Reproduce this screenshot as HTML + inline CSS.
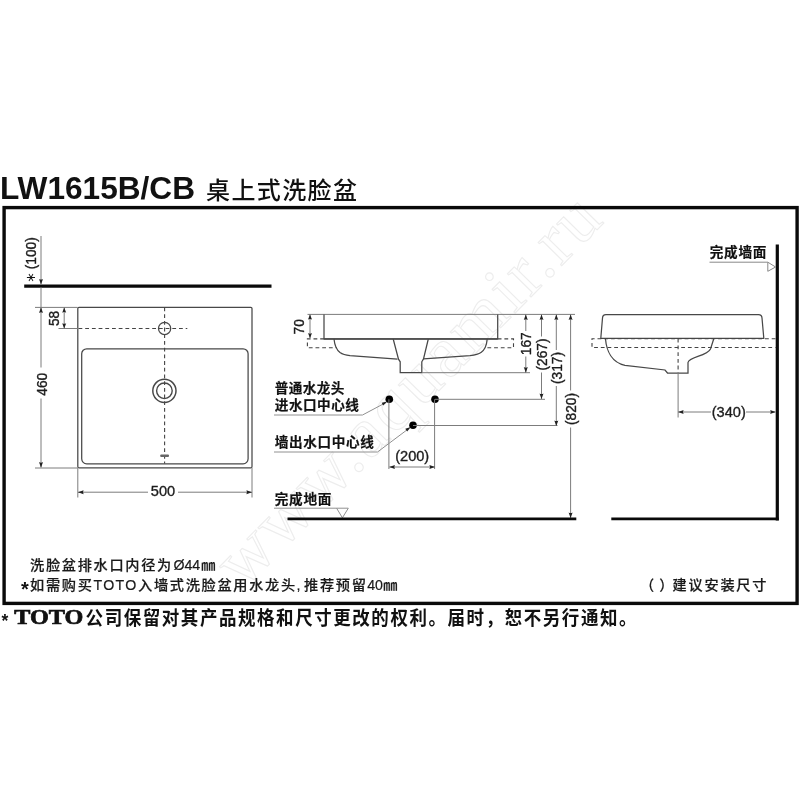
<!DOCTYPE html>
<html lang="zh-CN">
<head>
<meta charset="utf-8">
<title>LW1615B/CB 桌上式洗脸盆</title>
<style>
html,body{margin:0;padding:0;background:#fff;}
body{width:800px;height:800px;overflow:hidden;position:relative;}
svg{position:absolute;left:0;top:0;display:block;will-change:transform;}
text{font-family:"Liberation Sans","Noto Sans CJK SC",sans-serif;fill:#111;}
.dim{font-size:14.6px;fill:#1c1c1c;stroke:#1c1c1c;stroke-width:0.35;}
.lbl{font-size:13.6px;font-weight:700;fill:#111;stroke:#111;stroke-width:0.2;}
.note{font-size:14.2px;font-weight:500;fill:#1a1a1a;stroke:#1a1a1a;stroke-width:0.2;}
.thin{stroke:#484848;stroke-width:1.25;fill:none;}
.hair{stroke:#7c7c7c;stroke-width:1;fill:none;}
.dash{stroke:#444;stroke-width:1.1;fill:none;stroke-dasharray:3.8 2.9;}
.thick{stroke:#0a0a0a;stroke-width:3.2;fill:none;}
.arr{fill:#222;stroke:none;}
.wm{font-family:"Liberation Serif",serif;font-size:72px;fill:none;stroke:#ededed;stroke-width:1.1;}
</style>
</head>
<body>
<svg width="800" height="800" viewBox="0 0 800 800">
<rect x="0" y="0" width="800" height="800" fill="#fff"/>

<g style="filter:blur(0.35px)">
<!-- watermark -->
<g transform="translate(243,590) rotate(-45.5)">
<text class="wm" x="0" y="0" textLength="516" lengthAdjust="spacing">www.aquamir.ru</text>
</g>

<!-- title -->
<text x="0" y="199.2" font-size="31.6" font-weight="700" textLength="195" lengthAdjust="spacingAndGlyphs">LW1615B/CB</text>
<text x="206" y="199" font-size="24" font-weight="500" textLength="151" lengthAdjust="spacing">桌上式洗脸盆</text>

<!-- frame -->
<rect x="4.1" y="207.6" width="793" height="395.8" class="thick" style="stroke-width:3.4"/>

<!-- ===== top view ===== -->
<g id="topview">
<line x1="24.2" y1="286.1" x2="271.5" y2="286.1" class="thick"/>
<path class="hair" d="M41,236V284.5 M41,287.5V367.5 M41,398.5V467.5"/>
<path class="arr" d="M41,284.5l-2.0,-5.6q2.0,1.3 4.0,0z M41,307.3l-2.0,5.6q2.0,-1.3 4.0,0z M41,467.7l-2.0,-5.6q2.0,1.3 4.0,0z"/>
<text class="dim" transform="translate(35.9,253.3) rotate(-90) scale(0.94,1.06)" text-anchor="middle">(100)</text>
<text transform="translate(35.4,277.6) rotate(-90)" text-anchor="middle" font-size="10.5" font-weight="700" fill="#222">＊</text>
<text class="dim" transform="translate(47.3,384.3) rotate(-90) scale(0.94,1.06)" text-anchor="middle">460</text>
<path class="hair" d="M35,307.4H77.5 M35,468H77.5"/>
<!-- basin -->
<rect x="77.8" y="307.4" width="174.2" height="160.4" rx="1.2" class="thin"/>
<rect x="81.7" y="348.8" width="166.4" height="115" rx="5" ry="5" class="thin"/>
<!-- 58 -->
<path class="hair" d="M64.2,307.5V328.4 M58.5,328.5H78"/>
<path class="arr" d="M64.2,307.5l-2.0,5.2q2.0,-1.3 4.0,0z M64.2,328.4l-2.0,-5.2q2.0,1.3 4.0,0z"/>
<text class="dim" transform="translate(58.6,318.4) rotate(-90) scale(0.94,1.06)" text-anchor="middle">58</text>
<path class="dash" d="M78.5,328.5H187.3"/>
<path class="dash" d="M164.6,307.5V463.5"/>
<circle cx="164.6" cy="328.4" r="6.1" class="thin"/>
<circle cx="164.4" cy="390.8" r="11.6" class="thin" style="stroke-width:1.5"/>
<circle cx="164.4" cy="390.8" r="7.8" class="thin" style="stroke-width:1.4"/>
<rect x="160.2" y="454.6" width="8.8" height="2.3" rx="1" fill="#666"/>
<!-- 500 -->
<path class="hair" d="M77.8,467.5V497.5 M252,467.5V497.5 M78,492.2H148 M178,492.2H252"/>
<path class="arr" d="M78,492.2l5.6,-2.0q-1.3,2.0 0,4.0z M252,492.2l-5.6,-2.0q1.3,2.0 0,4.0z"/>
<text class="dim" x="163" y="496.1" text-anchor="middle">500</text>
</g>

<!-- ===== front elevation ===== -->
<g id="front">
<path class="hair" d="M307.5,314.4H575"/>
<path class="hair" d="M310,314.4V338"/>
<path class="arr" d="M310,314.4l-2.0,5.2q2.0,-1.3 4.0,0z M310,338.2l-2.0,-5.2q2.0,1.3 4.0,0z"/>
<text class="dim" transform="translate(304.4,326.8) rotate(-90) scale(0.94,1.06)" text-anchor="middle">70</text>
<path class="thin" d="M324,314.5V338.8H497.7V314.5"/>
<path class="thin" d="M324,338.9H497.7" style="stroke-width:1.5"/>
<path class="dash" d="M324,338.9H307.4V347.7H337 M497.7,338.9H513.5V347.7H484.5"/>
<path class="thin" d="M334,339C334.5,344 336,349.5 340,352.5C343,354.6 346,355.2 350,355.7L397.5,359.2"/>
<path class="thin" d="M487.2,339C486.8,344 485.5,349.5 481,352.5C478,354.6 474,355.2 470,355.7L423.5,358.9"/>
<path class="thin" d="M393.2,339L398.5,359.2L400.2,361.8V372.7H421.8V361.8L423.5,358.9L428.3,339"/>
<path class="hair" d="M421.8,372.7H530"/>
<circle cx="389.3" cy="399.3" r="3.8" fill="#000"/>
<circle cx="435" cy="399.3" r="3.8" fill="#000"/>
<circle cx="413" cy="425.2" r="3.8" fill="#000"/>
<path class="hair" d="M388.9,399.3V469 M434.6,399.3V469 M435,399.3H545 M413,425.5H557.5"/>
<path class="hair" d="M389.3,467H435"/>
<path class="arr" d="M389.3,467l5.6,-2.0q-1.3,2.0 0,4.0z M435,467l-5.6,-2.0q1.3,2.0 0,4.0z"/>
<text class="dim" x="412.2" y="461.3" text-anchor="middle">(200)</text>
<path class="hair" d="M525.8,314.4V331 M525.8,356.5V372.7"/>
<path class="hair" d="M541.5,314.4V336.5 M541.5,372.5V399"/>
<path class="hair" d="M556.3,314.4V350 M556.3,386V426"/>
<path class="hair" d="M570.6,314.4V390.5 M570.6,427.5V518"/>
<path class="arr" d="M525.8,314.4l-2.0,5.6q2.0,-1.3 4.0,0z M525.8,372.7l-2.0,-5.6q2.0,1.3 4.0,0z M541.5,314.4l-2.0,5.6q2.0,-1.3 4.0,0z M541.5,399l-2.0,-5.6q2.0,1.3 4.0,0z M556.3,314.4l-2.0,5.6q2.0,-1.3 4.0,0z M556.3,426l-2.0,-5.6q2.0,1.3 4.0,0z M570.6,314.4l-2.0,5.6q2.0,-1.3 4.0,0z M570.6,518l-2.0,-5.6q2.0,1.3 4.0,0z"/>
<text class="dim" transform="translate(531,343.8) rotate(-90) scale(0.94,1.06)" text-anchor="middle">167</text>
<text class="dim" transform="translate(546.7,354.5) rotate(-90) scale(0.94,1.06)" text-anchor="middle">(267)</text>
<text class="dim" transform="translate(561.5,368) rotate(-90) scale(0.94,1.06)" text-anchor="middle">(317)</text>
<text class="dim" transform="translate(575.8,409) rotate(-90) scale(0.94,1.06)" text-anchor="middle">(820)</text>
<text class="lbl" x="274.8" y="393.2" textLength="69.5" lengthAdjust="spacing">普通水龙头</text>
<text class="lbl" x="274.8" y="409.8" textLength="84" lengthAdjust="spacing">进水口中心线</text>
<path class="hair" d="M274,415H362.5L386,402.5" style="stroke:#909090"/>
<path class="arr" d="M387.3,401.6l-5.6,1.1l1.5,2.9z"/>
<text class="lbl" x="274.8" y="447.3" textLength="99" lengthAdjust="spacing">墙出水口中心线</text>
<path class="hair" d="M274,452H377.5L409.5,428" style="stroke:#909090"/>
<path class="arr" d="M410.8,426.9l-5.5,1.9l1.9,2.6z"/>
<text class="lbl" x="274.8" y="503.7" textLength="56.5" lengthAdjust="spacing">完成地面</text>
<path class="hair" d="M274,508.2H348.3L342.4,517.8L336.6,508.2" style="stroke:#909090"/>
<path d="M287.5,518.9H576.3 M611.3,518.9H778.7" stroke="#0a0a0a" stroke-width="2.7" fill="none"/>
</g>

<!-- ===== side view ===== -->
<g id="side">
<line x1="777.3" y1="244.5" x2="777.3" y2="520.6" class="thick"/>
<text class="lbl" x="709.8" y="257.3" textLength="56.5" lengthAdjust="spacing">完成墙面</text>
<path class="hair" d="M709.5,262.2H767.8L775.6,267L767.8,271.3V262.2" style="stroke:#888"/>
<path class="thin" d="M600.8,338.3L602.5,318Q602.6,314.5 606,314.5H758.5Q761.9,314.5 762,318L763.8,338.3Z"/>
<path class="dash" d="M775.5,338.8H592V347.5H775.5"/>
<path class="thin" d="M605.5,339C606.5,351 612,362.5 625,365.3L665,370L667.5,373H688V362.5C689,356.5 707,356.5 710.5,349L713.7,339"/>
<path class="dash" d="M678.1,338.8V372.5"/>
<path class="hair" d="M678.1,372.5V417.5 M678.1,412H711 M746,412H775.5"/>
<path class="arr" d="M678.1,412l5.6,-2.0q-1.3,2.0 0,4.0z M775.7,412l-5.6,-2.0q1.3,2.0 0,4.0z"/>
<text class="dim" x="728.8" y="416.9" text-anchor="middle">(340)</text>
</g>

<!-- ===== notes ===== -->
<text class="note" y="569.8"><tspan x="30" letter-spacing="1.7">洗脸盆排水口内径为</tspan><tspan x="173.4">Ø44</tspan><tspan x="201.3">㎜</tspan></text>
<text x="21.1" y="595.6" font-size="20" font-weight="700" fill="#1a1a1a">*</text>
<text class="note" y="589.8"><tspan x="30" letter-spacing="1.7">如需购买</tspan><tspan x="93.4" textLength="43" lengthAdjust="spacing">TOTO</tspan><tspan x="138" letter-spacing="1.7">入墙式洗脸盆用水龙头</tspan><tspan x="296.6">,</tspan><tspan x="304" letter-spacing="1.7">推荐预留</tspan><tspan x="367.2">40</tspan><tspan x="383.2">㎜</tspan></text>
<text class="note" x="640" y="590.3" letter-spacing="5">（）</text>
<text class="note" x="672.5" y="590.3" textLength="94" lengthAdjust="spacing">建议安装尺寸</text>

<text x="1.4" y="626.9" font-size="17.5" font-weight="700">*</text>
<text x="14.3" y="624.4" font-size="21" font-weight="700" style="font-family:'Liberation Serif',serif;stroke:#111;stroke-width:0.7" textLength="69" lengthAdjust="spacingAndGlyphs">TOTO</text>
<text transform="translate(85.6,624.9) scale(1,1.1)" font-size="17.5" font-weight="700" letter-spacing="1.57">公司保留对其产品规格和尺寸更改的权利。届时，恕不另行通知。</text>
</g>
</svg>
</body>
</html>
